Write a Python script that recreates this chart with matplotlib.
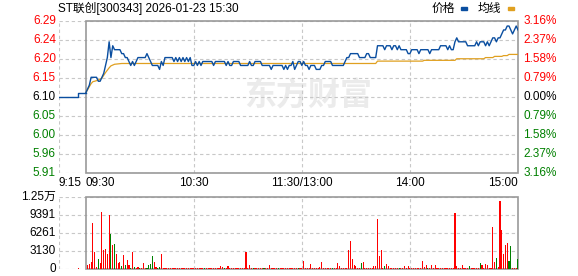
import numpy as np
import matplotlib
matplotlib.use("Agg")
import matplotlib.pyplot as plt
from matplotlib.patches import Rectangle

plt.rcParams['font.family'] = ['Liberation Sans', 'Noto Sans CJK SC', 'DejaVu Sans']

W, H = 578, 276

title = "ST联创[300343] 2026-01-23 15:30"
prev_close = 6.10
max_pct = 3.16

price_labels = ["6.29", "6.24", "6.20", "6.15", "6.10", "6.05", "6.00", "5.96", "5.91"]
pct_labels = ["3.16%", "2.37%", "1.58%", "0.79%", "0.00%", "0.79%", "1.58%", "2.37%", "3.16%"]
vol_labels = ["1.25万", "9391", "6261", "3130", "0"]
vol_max = 12522
time_labels = ["9:15", "09:30", "10:30", "11:30/13:00", "14:00", "15:00"]
time_ticks = [-15, 0, 60, 120, 180, 240]   # minutes from 9:30 (lunch removed)

# call auction 9:15-9:30
pre_time = [-15, -4.4, -4.4, 0]
pre_price = [6.10, 6.10, 6.11, 6.11]
pre_vol_time = [-4]
pre_vol = [230]

# one value per minute, 9:30 .. 15:00
price = [
    6.11, 6.12, 6.13, 6.15, 6.15, 6.15, 6.15, 6.14, 6.14, 6.15,
    6.16, 6.18, 6.20, 6.24, 6.20, 6.23, 6.22, 6.22, 6.22, 6.22,
    6.21, 6.21, 6.20, 6.20, 6.19, 6.18, 6.19, 6.18, 6.19, 6.20,
    6.20, 6.20, 6.20, 6.20, 6.21, 6.20, 6.19, 6.18, 6.18, 6.18,
    6.18, 6.17, 6.19, 6.18, 6.20, 6.20, 6.20, 6.20, 6.20, 6.19,
    6.20, 6.19, 6.20, 6.19, 6.20, 6.19, 6.20, 6.19, 6.20, 6.18,
    6.18, 6.19, 6.18, 6.19, 6.18, 6.19, 6.19, 6.19, 6.19, 6.19,
    6.19, 6.18, 6.19, 6.19, 6.19, 6.19, 6.19, 6.19, 6.18, 6.19,
    6.18, 6.18, 6.19, 6.19, 6.19, 6.19, 6.18, 6.18, 6.18, 6.18,
    6.18, 6.19, 6.18, 6.18, 6.19, 6.19, 6.19, 6.19, 6.18, 6.18,
    6.18, 6.18, 6.18, 6.17, 6.18, 6.18, 6.18, 6.18, 6.18, 6.18,
    6.17, 6.18, 6.17, 6.18, 6.18, 6.19, 6.17, 6.18, 6.19, 6.19,
    6.18, 6.19, 6.18, 6.18, 6.17, 6.18, 6.18, 6.18, 6.17, 6.17,
    6.17, 6.18, 6.18, 6.19, 6.19, 6.19, 6.19, 6.18, 6.18, 6.18,
    6.18, 6.18, 6.18, 6.18, 6.19, 6.20, 6.20, 6.21, 6.21, 6.21,
    6.21, 6.21, 6.20, 6.20, 6.20, 6.20, 6.21, 6.21, 6.20, 6.20,
    6.20, 6.20, 6.23, 6.23, 6.23, 6.23, 6.22, 6.23, 6.23, 6.23,
    6.22, 6.23, 6.23, 6.22, 6.23, 6.22, 6.22, 6.22, 6.22, 6.21,
    6.21, 6.22, 6.22, 6.22, 6.22, 6.21, 6.22, 6.22, 6.22, 6.22,
    6.22, 6.21, 6.22, 6.22, 6.22, 6.22, 6.22, 6.23, 6.23, 6.23,
    6.23, 6.22, 6.23, 6.22, 6.22, 6.24, 6.25, 6.24, 6.24, 6.24,
    6.24, 6.24, 6.23, 6.23, 6.23, 6.23, 6.23, 6.24, 6.23, 6.24,
    6.24, 6.24, 6.23, 6.24, 6.23, 6.24, 6.25, 6.25, 6.24, 6.25,
    6.25, 6.26, 6.27, 6.27, 6.28, 6.28, 6.27, 6.26, 6.27, 6.28,
    6.27,
]

# average price line, read at the points where it bends
avg_time = [0, 1, 2, 3, 4, 5, 7, 9, 11, 13, 14, 16, 20, 161, 162, 187, 188,
            205, 206, 221, 222, 226, 227, 231, 232, 234, 235, 240]
avg_price = [6.11, 6.118, 6.126, 6.134, 6.139, 6.140, 6.143, 6.148, 6.162, 6.174,
             6.179, 6.183, 6.185, 6.185, 6.191, 6.191, 6.193, 6.193, 6.197, 6.197,
             6.200, 6.200, 6.203, 6.203, 6.205, 6.205, 6.208, 6.208]

# volume per minute, 9:31 .. 15:00
volume = [
    700, 870, 1160, 8000, 2900, 290, 1740, 1040, 9900, 3300,
    3480, 2600, 9400, 6090, 4180, 4350, 2600, 1040, 1160, 580,
    2440, 700, 1570, 700, 230, 2960, 400, 230, 400, 230,
    150, 1040, 230, 230, 700, 870, 2200, 1280, 400, 230,
    400, 2600, 170, 200, 170, 170, 150, 170, 200, 170,
    170, 150, 200, 170, 170, 150, 170, 170, 150, 170,
    170, 200, 150, 170, 170, 150, 170, 170, 200, 170,
    170, 150, 170, 170, 460, 290, 170, 170, 460, 170,
    170, 150, 170, 170, 170, 150, 170, 170, 3000, 170,
    700, 170, 150, 170, 170, 170, 150, 170, 170, 170,
    170, 700, 170, 170, 150, 170, 170, 170, 170, 150,
    170, 170, 170, 170, 170, 150, 170, 230, 170, 170,
    1390, 170, 170, 170, 870, 170, 170, 230, 170, 400,
    1280, 170, 230, 170, 170, 170, 230, 170, 170, 1040,
    460, 170, 170, 170, 170, 3360, 4760, 1740, 700, 460,
    170, 170, 1040, 1280, 170, 170, 170, 230, 170, 460,
    460, 8590, 2320, 3360, 170, 460, 870, 580, 170, 230,
    170, 170, 230, 170, 170, 230, 460, 170, 460, 170,
    170, 170, 170, 170, 170, 170, 1330, 290, 700, 170,
    230, 700, 170, 700, 170, 170, 170, 170, 170, 170,
    170, 170, 230, 170, 9740, 460, 170, 230, 700, 170,
    170, 170, 460, 170, 170, 170, 170, 230, 1040, 700,
    170, 870, 700, 170, 170, 7250, 1160, 1860, 290, 11830,
    6670, 2610, 4180, 4520, 1330, 3950, 170, 170, 170, 1740,
]
green_minutes = [7, 14, 16, 20, 22, 25, 27, 30, 34, 35, 36, 37, 40, 41, 66, 77, 93,
                 99, 107, 118, 137, 153, 166, 174, 190, 213, 219, 228, 235, 236, 240]

RED = "#ff0000"
GREEN = "#008000"
BLUE = "#0a4ea0"
ORANGE = "#e0a020"
GRID = "#c8c8c8"
BOX = "#999999"
FS = 8.5


def fx(x):
    return x / W


def fy(y):
    return 1 - y / H


fig = plt.figure(figsize=(W / 100, H / 100), dpi=100)
left, right = 58.7, 518
ax = fig.add_axes([fx(left), fy(173), fx(right - left), (173 - 21) / H])
vax = fig.add_axes([fx(left), fy(269), fx(right - left), (269 - 196.5) / H])

span = prev_close * max_pct / 100
ymin, ymax = prev_close - span, prev_close + span
levels = np.linspace(ymax, ymin, 9)

for a in (ax, vax):
    a.set_xlim(-15, 240)
    a.axis("off")

ax.set_ylim(ymin, ymax)
vax.set_ylim(0, vol_max)

dash = dict(color=GRID, lw=0.8, dashes=(3, 2.5), zorder=1)
for lv in levels:
    ax.axhline(lv, **dash)
for t in [-15, 60, 120, 180]:
    ax.axvline(t, **dash)
    vax.axvline(t, **dash)
for lv in np.linspace(vol_max, 0, 5):
    vax.axhline(lv, **dash)

ax.add_patch(Rectangle((0, ymin), 240, ymax - ymin, fill=False, ec=BOX, lw=1.2,
                       zorder=4, clip_on=False))
vax.add_patch(Rectangle((0, 0), 240, vol_max, fill=False, ec=BOX, lw=1.2,
                        zorder=4, clip_on=False))

# watermark
ax.text(88, 6.10, "东方财富", fontsize=23, fontweight="bold", color="#ebebeb",
        ha="left", va="center", zorder=0, family=['Noto Sans CJK SC'])

minutes = np.arange(len(price))
ax.plot(pre_time, pre_price, color=BLUE, lw=1.0, zorder=5)
ax.plot(minutes, price, color=BLUE, lw=1.0, zorder=5)
ax.plot(avg_time, avg_price, color=ORANGE, lw=0.9, zorder=4)

vmin = np.arange(1, len(volume) + 1)
colors = [GREEN if m in green_minutes else RED for m in vmin]
vax.bar(vmin, volume, width=0.62, color=colors, lw=0, zorder=5, antialiased=False)
vax.bar(pre_vol_time, pre_vol, width=0.62, color=RED, lw=0, zorder=5, antialiased=False)

# axis labels
for lv, lab, pl in zip(levels, price_labels, pct_labels):
    c = RED if lv > prev_close + 1e-6 else (GREEN if lv < prev_close - 1e-6 else "black")
    ax.text(-0.006, lv, lab, transform=ax.get_yaxis_transform(), ha="right",
            va="center", color=c, fontsize=FS)
    ax.text(1.012, lv, pl, transform=ax.get_yaxis_transform(), ha="left",
            va="center", color=c, fontsize=FS)

for lv, lab in zip(np.linspace(vol_max, 0, 5), vol_labels):
    vax.text(-0.006, lv, lab, transform=vax.get_yaxis_transform(), ha="right",
             va="center", color="black", fontsize=FS)

aligns = ["left", "left", "center", "center", "center", "right"]
for t, lab, al in zip(time_ticks, time_labels, aligns):
    fig.text(fx(left + (t + 15) * 1.8), fy(182.5), lab, fontsize=FS, ha=al, va="center")

# title and legend
fig.text(fx(58), fy(8.5), title, fontsize=FS, ha="left", va="center")
fig.text(fx(432), fy(8.5), "价格", fontsize=FS, ha="left", va="center")
fig.patches.append(Rectangle((fx(461), fy(9.5)), fx(6), 2.5 / H, color=BLUE,
                             transform=fig.transFigure, figure=fig))
fig.text(fx(478), fy(8.5), "均线", fontsize=FS, ha="left", va="center")
fig.patches.append(Rectangle((fx(508), fy(9.5)), fx(6), 2.5 / H, color=ORANGE,
                             transform=fig.transFigure, figure=fig))

fig.savefig("out.png", dpi=100)
